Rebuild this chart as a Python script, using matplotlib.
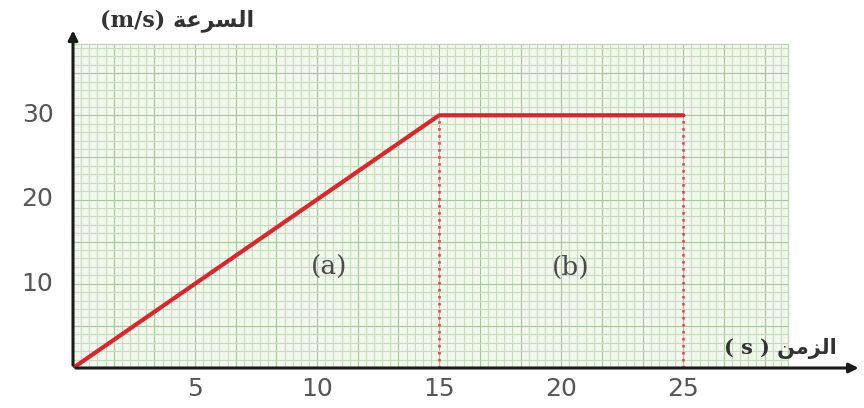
import numpy as np
import matplotlib.pyplot as plt

# data: speed-time graph
times = [0, 15, 25]
speeds = [0, 30, 30]
x_ticks = [5, 10, 15, 20, 25]
y_ticks = [10, 20, 30]
region_labels = ["(a)", "(b)"]
region_x = [10.5, 20.4]
region_y = [11.9, 11.9]

# Arabic labels in visual order (presentation forms)
y_label = "(m/s) \ufe94\ufecb\ufeae\ufeb4\ufedf\ufe8d"
x_label = "( s ) \ufee6\ufee3\ufeb0\ufedf\ufe8d"

fig = plt.figure(figsize=(8.64, 4.08), dpi=100)
ax = fig.add_axes([73 / 864, 40 / 408, (859 - 73) / 864, (377 - 40) / 408])
ax.set_xlim(0, 32.2)
ax.set_ylim(0, 40)
ax.axis('off')

# graph paper
gx, gy = 29.3, 38.5
ax.fill_between([0, gx], 0, gy, color='#f1f8ec', zorder=0)
for i, xv in enumerate(np.arange(0, gx + 0.01, 1 / 3)):
    c = '#a9c2a0' if i % 5 == 0 else '#c8dbc0'
    ax.plot([xv, xv], [0, gy], color=c, lw=0.8, zorder=1)
for i, yv in enumerate(np.arange(0, gy + 0.01, 1)):
    c = '#a9c2a0' if i % 5 == 0 else '#c8dbc0'
    ax.plot([0, gx], [yv, yv], color=c, lw=0.8, zorder=1)
ax.plot([gx, gx], [0, gy], color='#bcd2b4', lw=0.8, zorder=1)
ax.plot([0, gx], [gy, gy], color='#bcd2b4', lw=0.8, zorder=1)

# axes with arrows
ax.annotate('', xy=(32.3, 0), xytext=(0, 0),
            arrowprops=dict(arrowstyle='-|>', color='#1a1a1a', lw=2.2, mutation_scale=14),
            annotation_clip=False, zorder=5)
ax.annotate('', xy=(0, 40.4), xytext=(0, 0),
            arrowprops=dict(arrowstyle='-|>', color='#1a1a1a', lw=2.2, mutation_scale=14),
            annotation_clip=False, zorder=5)

# dotted projections
for t, v in zip(times[1:], speeds[1:]):
    ax.plot([t, t], [0, v], color='#e04a58', lw=1.9, ls=':', zorder=3)

# speed line
ax.plot(times, speeds, color='#d8272f', lw=3, solid_capstyle='round',
        solid_joinstyle='round', zorder=4)

for xv in x_ticks:
    ax.text(xv, -1.1, str(xv), ha='center', va='top', fontsize=18, color='#555555')
for yv in y_ticks:
    ax.text(-0.8, yv, str(yv), ha='right', va='center', fontsize=18, color='#555555')

for lab, xv, yv in zip(region_labels, region_x, region_y):
    ax.text(xv, yv, lab, ha='center', va='center', fontsize=19, color='#4a4a4a',
            family='DejaVu Serif')

ax.text(1.1, 41.2, y_label, ha='left', va='center', fontsize=16, color='#333333',
        fontweight='bold', family=['DejaVu Serif', 'DejaVu Sans'], clip_on=False)
ax.text(31.3, 2.3, x_label, ha='right', va='center', fontsize=15, color='#333333',
        fontweight='bold', family=['DejaVu Serif', 'DejaVu Sans'])

fig.savefig('out.png', dpi=100)
